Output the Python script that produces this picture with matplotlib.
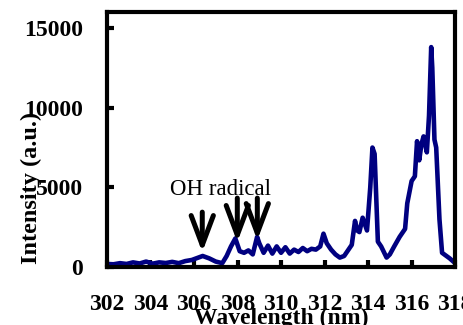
import matplotlib
matplotlib.use('Agg')
import matplotlib.pyplot as plt

# OH emission spectrum
wavelength = [302.0, 302.3, 302.6, 302.9, 303.2, 303.5, 303.8, 304.1, 304.4, 304.7,
              305.0, 305.3, 305.6, 305.9, 306.2, 306.4, 306.7, 307.0, 307.3, 307.5,
              307.7, 307.9, 308.1, 308.3, 308.5, 308.7, 308.9, 309.0, 309.2, 309.4,
              309.6, 309.8, 310.0, 310.2, 310.4, 310.6, 310.8, 311.0, 311.2, 311.4,
              311.6, 311.8, 311.95, 312.1, 312.3, 312.5, 312.7, 312.9, 313.1, 313.25,
              313.4, 313.5, 313.6, 313.75, 313.95, 314.1, 314.2, 314.3, 314.45, 314.6,
              314.85, 315.0, 315.2, 315.45, 315.7, 315.8, 316.0, 316.15, 316.25, 316.35,
              316.45, 316.55, 316.7, 316.8, 316.9, 316.95, 317.05, 317.13, 317.28, 317.4,
              317.75, 318.0]
intensity = [200, 180, 250, 200, 300, 230, 350, 220, 300, 260,
             330, 250, 380, 450, 600, 700, 550, 350, 250, 700,
             1300, 1800, 1000, 900, 1050, 800, 1900, 1500, 900, 1350,
             850, 1300, 900, 1250, 850, 1100, 950, 1200, 1000, 1150,
             1100, 1300, 2100, 1500, 1100, 800, 600, 700, 1100, 1400,
             2900, 2300, 2200, 3100, 2300, 5000, 7500, 7100, 1600, 1300,
             600, 800, 1300, 1900, 2400, 4000, 5400, 5700, 7900, 6700,
             7700, 8200, 7200, 9500, 13800, 12500, 8000, 7500, 3000, 900,
             550, 250]

xticks = [302, 304, 306, 308, 310, 312, 314, 316, 318]
yticks = [0, 5000, 10000, 15000]

# arrows marking OH radical lines: (x, y_start, y_tip)
arrows = [(306.38, 3450, 940), (307.99, 4330, 1570), (308.91, 4330, 1690)]

plt.rcParams['font.family'] = ['Liberation Serif', 'DejaVu Serif']

fig = plt.figure(figsize=(4.63, 3.25), dpi=100)
ax = fig.add_axes([0.231, 0.178, 0.752, 0.785])

ax.plot(wavelength, intensity, color='#000080', linewidth=3.3)

for x, y0, y1 in arrows:
    ax.annotate('', xy=(x, y1), xytext=(x, y0),
                arrowprops=dict(arrowstyle='->,head_length=0.85,head_width=0.32',
                                color='black', lw=3.6,
                                mutation_scale=25, shrinkA=0, shrinkB=0))
ax.text(307.2, 4850, 'OH radical', fontsize=16.5, ha='center', va='center')

ax.set_xlim(302, 318)
ax.set_ylim(0, 16000)
ax.set_xticks(xticks)
ax.set_yticks(yticks)
ax.tick_params(direction='in', length=5, width=3, labelsize=17, top=False, right=False)
ax.tick_params(axis='x', pad=19)
ax.tick_params(axis='y', pad=17)
for lab in ax.get_xticklabels() + ax.get_yticklabels():
    lab.set_fontweight('bold')
for sp in ax.spines.values():
    sp.set_linewidth(3)

ax.set_xlabel('Wavelength (nm)', fontsize=17, fontweight='bold', va='top')
ax.xaxis.set_label_coords(0.5, -0.16)
ax.set_ylabel('Intensity (a.u.)', fontsize=17.5, fontweight='bold', va='center', ha='center')
ax.yaxis.set_label_coords(-0.218, 0.31)

fig.savefig('out.png', dpi=100)
